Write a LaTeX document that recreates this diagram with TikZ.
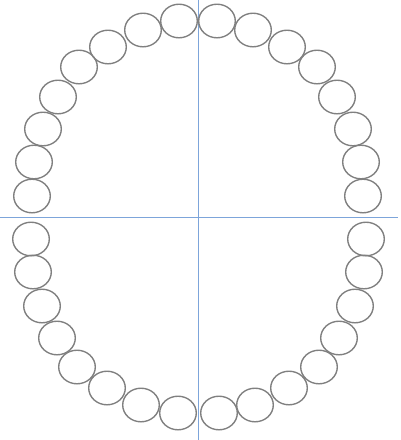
\documentclass[tikz,border=0pt]{standalone}
\usetikzlibrary{shapes.geometric}
\definecolor{ringgray}{RGB}{128,128,128}
\definecolor{axisblue}{RGB}{125,165,218}
\begin{document}
\begin{tikzpicture}[x=1pt,y=-1pt,
  bead/.style={draw=ringgray,line width=1.4pt,ellipse,minimum width=36.6pt,minimum height=33.6pt,inner sep=0pt},
  axis/.style={draw=axisblue,line width=1pt}]
\useasboundingbox (0,0) rectangle (400,440);
\coordinate (vt) at (198,0);
\coordinate (vb) at (198,440);
\coordinate (hl) at (0,217);
\coordinate (hr) at (397.5,217);
\draw[axis] (vt) -- (vb);
\draw[axis] (hl) -- (hr);
\foreach \x/\y [count=\i] in {
  179/21, 143/30, 108/47, 79/67, 58/97, 43/129, 34/162, 32/196,
  217/21, 253/30, 287/47, 317/67, 337/97, 353/129, 361/162, 363/196,
  31/239, 33/272, 42/306, 57/338, 77/367, 107/388, 141/405, 178/413,
  366/239, 364/272, 355/306, 339/338, 319/367, 289/388, 255/405, 219/413}
  \node[bead] (b\i) at (\x,\y) {};
\end{tikzpicture}
\end{document}
